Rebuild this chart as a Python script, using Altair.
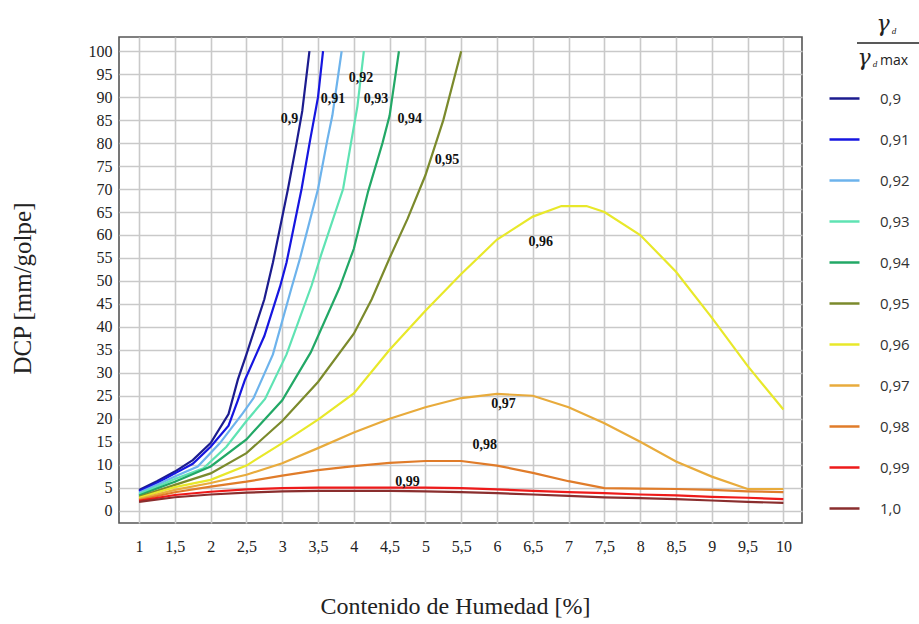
import altair as alt
import pandas as pd

# ---- data ----
SERIES = ["0,9", "0,91", "0,92", "0,93", "0,94", "0,95", "0,96", "0,97", "0,98", "0,99", "1,0"]
COLORS = ["#1c1c8f", "#1616e0", "#6db3ec", "#5fe3b3", "#22a866", "#7b8a2c",
          "#e8e82a", "#e8ab3c", "#e07c2a", "#ee1a1a", "#8a2e2e"]

X_090 = [1, 1.25, 1.5, 1.75, 2, 2.25, 2.38, 2.5, 2.75, 2.87, 3.08, 3.2, 3.28, 3.38]
Y_090 = [4.5, 6.4, 8.5, 11, 14.7, 21, 28.5, 34, 46, 54, 70, 80, 87, 100]

X_091 = [1, 1.25, 1.5, 1.75, 2, 2.25, 2.38, 2.48, 2.75, 2.97, 3.06, 3.27, 3.39, 3.5, 3.57]
Y_091 = [4.2, 6.0, 8.1, 10.2, 13.9, 18.5, 24, 28.5, 38, 48.8, 54, 70, 80.7, 90, 100]

X_092 = [1, 1.25, 1.5, 1.82, 2.13, 2.45, 2.6, 2.87, 3.13, 3.25, 3.5, 3.63, 3.7, 3.83]
Y_092 = [3.9, 5.6, 7.4, 9.6, 14.7, 21.2, 24.5, 34, 48.5, 55, 70, 80.7, 86, 100]

X_093 = [1, 1.25, 1.5, 1.9, 2.22, 2.5, 2.76, 3.06, 3.41, 3.55, 3.85, 3.96, 4.05, 4.14]
Y_093 = [3.6, 5.2, 6.9, 9.2, 13.9, 19.5, 24.3, 34, 49, 56, 70, 80, 88, 100]

X_094 = [1, 1.25, 1.5, 2, 2.5, 3, 3.4, 3.8, 4.0, 4.2, 4.4, 4.5, 4.63]
Y_094 = [3.3, 4.8, 6.3, 9.6, 15.5, 24, 34.5, 48.5, 57, 69.5, 80, 86, 100]

X_095 = [1, 1.5, 2, 2.5, 3, 3.5, 4, 4.25, 4.5, 4.75, 5.0, 5.25, 5.5]
Y_095 = [3.0, 5.6, 8.1, 12.5, 19.5, 28, 38.5, 46, 55, 63.5, 73, 85, 100]

X_096 = [1, 1.5, 2, 2.5, 3, 3.5, 4, 4.5, 5, 5.5, 6, 6.5, 6.9, 7.25, 7.5, 8, 8.5, 9, 9.5, 10]
Y_096 = [2.8, 5.1, 6.7, 9.8, 14.7, 19.8, 25.5, 35, 43.5, 51.5, 59, 64, 66.3, 66.3, 65, 60, 52, 42, 31.5, 22]

X_STD = [1, 1.5, 2, 2.5, 3, 3.5, 4, 4.5, 5, 5.5, 6, 6.5, 7, 7.5, 8, 8.5, 9, 9.5, 10]
Y_097 = [2.5, 4.5, 6.0, 7.8, 10.3, 13.6, 17, 20, 22.5, 24.5, 25.4, 25, 22.5, 19, 15, 10.7, 7.4, 4.7, 4.7]
Y_098 = [2.3, 4.0, 5.2, 6.3, 7.6, 8.8, 9.7, 10.4, 10.8, 10.8, 9.8, 8.2, 6.4, 4.9, 4.8, 4.7, 4.5, 4.2, 4.0]
Y_099 = [2.1, 3.4, 4.1, 4.6, 4.9, 5.0, 5.0, 5.0, 5.0, 4.9, 4.6, 4.3, 4.0, 3.8, 3.5, 3.3, 3.0, 2.8, 2.5]
Y_100 = [1.9, 2.9, 3.5, 3.9, 4.2, 4.3, 4.3, 4.3, 4.2, 4.0, 3.8, 3.5, 3.2, 2.9, 2.7, 2.5, 2.2, 1.9, 1.7]

LABEL_TEXT = ["0,9", "0,91", "0,92", "0,93", "0,94", "0,95", "0,96", "0,97", "0,98", "0,99"]
LABEL_X = [3.10, 3.71, 4.10, 4.31, 4.78, 5.30, 6.61, 6.09, 5.83, 4.75]
LABEL_Y = [85.3, 89.7, 94.1, 89.7, 85.3, 76.4, 58.5, 23.3, 14.2, 6.2]

X_TICKS = [1 + 0.5 * i for i in range(19)]
Y_TICKS = list(range(0, 101, 5))

# ---- build table ----
pairs = [(X_090, Y_090), (X_091, Y_091), (X_092, Y_092), (X_093, Y_093),
         (X_094, Y_094), (X_095, Y_095), (X_096, Y_096), (X_STD, Y_097),
         (X_STD, Y_098), (X_STD, Y_099), (X_STD, Y_100)]
rows = []
for i, (name, (xs, ys)) in enumerate(zip(SERIES, pairs)):
    for j, (xv, yv) in enumerate(zip(xs, ys)):
        rows.append({"serie": name, "ord": i, "idx": j, "w": xv, "dcp": yv})
df = pd.DataFrame(rows)
lab = pd.DataFrame({"t": LABEL_TEXT, "w": LABEL_X, "dcp": LABEL_Y})

SERIF = "Liberation Serif"
xscale = alt.Scale(domain=[0.72, 10.26], nice=False, zero=False)
yscale = alt.Scale(domain=[-2.7, 103.1], nice=False, zero=False)

x_axis = alt.Axis(values=X_TICKS, format="~g", labelOverlap=False,
                  labelExpr="replace(datum.label, '.', ',')",
                  grid=True, gridColor="#c9c9c9", gridWidth=1.6,
                  ticks=False, domain=False,
                  labelFont=SERIF, labelFontSize=16, labelColor="#222",
                  labelPadding=15,
                  title="Contenido de Humedad [%]", titleFont=SERIF,
                  titleFontSize=24, titleFontWeight="normal", titleColor="#222",
                  titleX=336, titleY=83, titleBaseline="middle",
                  titleAlign="center")
y_axis = alt.Axis(values=Y_TICKS, labelOverlap=False,
                  grid=True, gridColor="#c9c9c9", gridWidth=1.6,
                  ticks=False, domain=False,
                  labelFont=SERIF, labelFontSize=16, labelColor="#222",
                  labelPadding=7,
                  title="DCP [mm/golpe]", titleFont=SERIF, titleFontSize=25,
                  titleFontWeight="normal", titleColor="#222",
                  titleAngle=270, titleX=-97, titleY=251,
                  titleAlign="center", titleBaseline="middle")

lines = alt.Chart(df).mark_line(strokeWidth=2.2, clip=False).encode(
    x=alt.X("w:Q", scale=xscale, axis=x_axis),
    y=alt.Y("dcp:Q", scale=yscale, axis=y_axis),
    color=alt.Color("serie:N",
                    scale=alt.Scale(domain=SERIES, range=COLORS),
                    legend=alt.Legend(orient="none", legendX=709, legendY=45,
                                      title=None, symbolType="stroke",
                                      symbolSize=900, symbolStrokeWidth=2.5,
                                      rowPadding=16, labelOffset=19,
                                      labelFont="Open Sans", labelFontSize=15,
                                      labelColor="#333", padding=0)),
    order=alt.Order("idx:Q"),
    detail="ord:N",
)

labels = alt.Chart(lab).mark_text(font=SERIF, fontSize=14, fontWeight="bold",
                                  color="#111").encode(
    x=alt.X("w:Q", scale=xscale, axis=x_axis),
    y=alt.Y("dcp:Q", scale=yscale, axis=y_axis),
    text="t:N")

one = alt.Data(values=[{"a": 1}])
gam_top = alt.Chart(one).mark_text(font="DejaVu Serif", fontSize=22, fontStyle="italic",
                                   color="#222").encode(
    x=alt.value(764), y=alt.value(-13), text=alt.value("γ"))
d_top = alt.Chart(one).mark_text(font=SERIF, fontSize=9, fontStyle="italic",
                                 color="#222").encode(
    x=alt.value(775), y=alt.value(-6), text=alt.value("d"))
bar = alt.Chart(one).mark_rule(color="#222", strokeWidth=1.3).encode(
    x=alt.value(738), x2=alt.value(800), y=alt.value(6))
gam_bot = alt.Chart(one).mark_text(font="DejaVu Serif", fontSize=22, fontStyle="italic",
                                   color="#222").encode(
    x=alt.value(745), y=alt.value(21), text=alt.value("γ"))
d_bot = alt.Chart(one).mark_text(font=SERIF, fontSize=9, fontStyle="italic",
                                 color="#222").encode(
    x=alt.value(756), y=alt.value(27), text=alt.value("d"))
max_bot = alt.Chart(one).mark_text(font="Open Sans", fontSize=14, color="#222",
                                   align="left").encode(
    x=alt.value(761), y=alt.value(24), text=alt.value("max"))

chart = alt.layer(lines, labels, gam_top, d_top, bar, gam_bot, d_bot, max_bot).properties(
    width=683, height=486,
    padding={"left": 119, "top": 37, "right": 117, "bottom": 101},
    autosize=alt.AutoSizeParams(type="none"),
    background="white",
).configure_view(stroke="#555", strokeWidth=1.6)

chart.save("out.html", embed_options={"renderer": "svg", "actions": False})
